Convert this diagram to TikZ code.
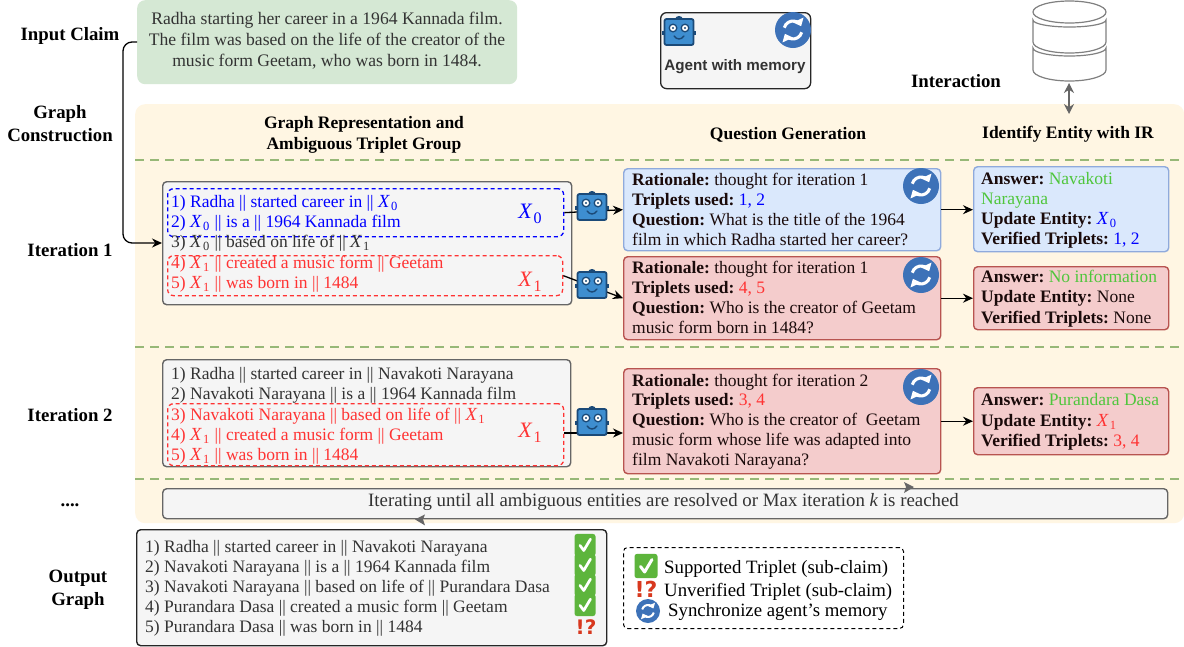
\documentclass[tikz,border=0pt]{standalone}
\usepackage{fontspec}
\setmainfont{Liberation Serif}
\newfontfamily\sansf{Liberation Sans}
\newfontfamily\dejab{DejaVu Sans}
\usetikzlibrary{arrows.meta,shapes.geometric}
\definecolor{bgyellow}{HTML}{FFF6E3}
\definecolor{claimgreen}{HTML}{D5E8D4}
\definecolor{sepgreen}{HTML}{97B877}
\definecolor{boxgray}{HTML}{F5F5F5}
\definecolor{edgegray}{HTML}{666666}
\definecolor{qblue}{HTML}{DAE8FC}
\definecolor{qblueedge}{HTML}{8FAADC}
\definecolor{qred}{HTML}{F4CCCC}
\definecolor{qrededge}{HTML}{B85450}
\definecolor{tred}{HTML}{FF3333}
\definecolor{tblue}{HTML}{0000FF}
\definecolor{tgreen}{HTML}{4FC63C}
\definecolor{tgray}{HTML}{333333}
\definecolor{tbrown}{HTML}{1A0A0A}
\definecolor{syncblue}{HTML}{3D72B8}
\definecolor{robotblue}{HTML}{3E8ED0}
\definecolor{robotedge}{HTML}{1B4A78}
\definecolor{checkgreen}{HTML}{5DB53C}
\definecolor{warnred}{HTML}{D8381E}
\newcommand{\Xs}[1]{{\fontsize{18.5}{20}\selectfont\textit{X}}\hspace{1pt}\raisebox{-0.22em}{\fontsize{12.5}{13}\selectfont #1}\hspace{1pt}}
\newcommand{\XL}[1]{{\fontsize{22}{24}\selectfont\textit{X}\hspace{1pt}\raisebox{-0.22em}{\fontsize{16}{16}\selectfont #1}}}
\newcommand{\SyncIcon}[4]{%
  \node[circle,fill=syncblue,minimum size=#4*2pt,inner sep=0pt] (#1) at (#2,#3) {};
  \begin{scope}[shift={(#1)}]
    \draw[white,line width=#4*0.17pt,-{Triangle[length=#4*0.38pt,width=#4*0.62pt]}] (195:#4*0.5) arc[start angle=195,end angle=335,radius=#4*0.5];
    \draw[white,line width=#4*0.17pt,-{Triangle[length=#4*0.38pt,width=#4*0.62pt]}] (15:#4*0.5) arc[start angle=15,end angle=155,radius=#4*0.5];
  \end{scope}}
\newcommand{\RobotIcon}[3]{%
  \node[minimum width=30pt,minimum height=32pt,inner sep=0pt] (#1) at (#2,#3) {};
  \begin{scope}[shift={(#1)}]
    \fill[robotedge] (-4,-11) arc[start angle=180,end angle=0,radius=4] -- cycle;
    \fill[robotedge] (-4,-11) .. controls (-3,-15) and (3,-15) .. (4,-11) -- cycle;
    \fill[robotedge] (-17,1) rectangle (17,5);
    \draw[robotedge,line width=1.8pt,fill=robotblue,rounded corners=2pt] (-14.5,-11) rectangle (14.5,15);
    \draw[robotedge,line width=1.3pt,fill=white] (-6,-2) circle (3.8);
    \draw[robotedge,line width=1.3pt,fill=white] (6,-2) circle (3.8);
    \fill[robotedge] (-6,-2) circle (1.2);
    \fill[robotedge] (6,-2) circle (1.2);
    \draw[robotedge,line width=1.4pt,line cap=round] (-5,6) .. controls (-2,10) and (2,10) .. (5,6);
  \end{scope}}
\newcommand{\CheckIcon}[4]{%
  \node[fill=checkgreen,rounded corners=2.5pt,minimum width=#4pt,minimum height=#4*1.05pt,inner sep=0pt] (#1) at (#2,#3) {};
  \draw[white,line width=#4*0.13pt,line cap=round,line join=round,shift={(#1)}] (-#4*0.24,#4*0.02) -- (-#4*0.06,#4*0.26) -- (#4*0.26,-#4*0.28);}
\tikzset{
  x=1pt,y=-1pt,
  tl/.style={anchor=base west,inner sep=0pt,font=\fontsize{17.5}{20}\selectfont\frenchspacing},
  tlb/.style={tl,text=tbrown},
  lab/.style={align=center,inner sep=0pt,font=\fontsize{18.8}{23}\selectfont\bfseries},
  hdr/.style={align=center,inner sep=0pt,font=\fontsize{17.5}{21}\selectfont\bfseries},
  frame/.style={anchor=north west,draw,rounded corners=4pt,inner sep=0pt},
  graybox/.style={frame,fill=boxgray,draw=edgegray,line width=1.4pt},
  qb/.style={frame,fill=qblue,draw=qblueedge,line width=1.4pt},
  qr/.style={frame,fill=qred,draw=qrededge,line width=1.4pt},
  dashb/.style={frame,draw=tblue,line width=1.3pt,dash pattern=on 4pt off 3pt,rounded corners=6pt},
  dashr/.style={frame,draw=tred,line width=1.3pt,dash pattern=on 4pt off 3pt,rounded corners=6pt},
  conn/.style={line width=1.3pt,-{Stealth[length=10pt,width=9pt]}},
  sep/.style={sepgreen,line width=2.4pt,dash pattern=on 9pt off 6pt},
  warn/.style={inner sep=0pt,text=warnred,font=\dejab\bfseries\fontsize{20}{20}\selectfont},
  legt/.style={anchor=base west,inner sep=0pt,text=black,font=\fontsize{18.8}{20}\selectfont},
}
\begin{document}
\begin{tikzpicture}
\useasboundingbox (0,0) rectangle (1184,646);
\fill[white] (0,0) rectangle (1184,646);
% background panel
\node[anchor=north west,fill=bgyellow,rounded corners=10pt,minimum width=1049pt,minimum height=419pt,inner sep=0pt] (panel) at (135,104) {};
\coordinate (sepL1) at (135,160); \coordinate (sepR1) at (1184,160);
\coordinate (sepL2) at (135,347); \coordinate (sepR2) at (1184,347);
\coordinate (sepL3) at (135,479); \coordinate (sepR3) at (1184,479);
\draw[sep] (sepL1) -- (sepR1);
\draw[sep] (sepL2) -- (sepR2);
\draw[sep] (sepL3) -- (sepR3);
% left labels
\node[lab] (lInput) at (70,36) {Input Claim};
\node[lab] (lGraph) at (60,124) {Graph\\Construction};
\node[lab] (lIt1) at (70,250) {Iteration 1};
\node[lab] (lIt2) at (70,415) {Iteration 2};
\node[lab] (lDots) at (70,505) {....};
\node[lab] (lOut) at (78,590) {Output\\Graph};
% claim
\node[anchor=north west,fill=claimgreen,rounded corners=8pt,minimum width=380pt,minimum height=84pt,inner sep=0pt] (claim) at (137,0) {};
\node[align=center,inner sep=0pt,font=\fontsize{17.6}{21}\selectfont,text=tgray] (claimT) at (327,41) {Radha starting her career in a 1964 Kannada film.\\The film was based on the life of the creator of the\\music form Geetam, who was born in 1484.};
% agent legend
\node[frame,fill=boxgray,draw=black!85,line width=1.3pt,minimum width=150pt,minimum height=76pt,rounded corners=6pt] (agent) at (660,12) {};
\RobotIcon{rAgent}{679}{30}
\SyncIcon{sAgent}{793}{30}{18}
\node[inner sep=0pt,text=tgray,font=\sansf\bfseries\fontsize{15.2}{16}\selectfont] (agentT) at (735,67) {Agent with memory};
% database
\node[lab] (lInter) at (956,81) {Interaction};
\begin{scope}[draw=black!50,fill=white,line width=1.2pt]
  \filldraw (1033,48) -- (1033,70) arc[start angle=180,end angle=0,x radius=36.5,y radius=11] -- (1106,48) arc[start angle=0,end angle=180,x radius=36.5,y radius=8] -- cycle;
  \filldraw (1033,20) -- (1033,42) arc[start angle=180,end angle=0,x radius=36.5,y radius=11] -- (1106,20) arc[start angle=0,end angle=180,x radius=36.5,y radius=7] -- cycle;
  \node[ellipse,draw=black!50,fill=white,line width=1.2pt,minimum width=73pt,minimum height=22pt,inner sep=0pt] (dbTop) at (1069.5,12) {};
\end{scope}
\coordinate (dbB) at (1069,83); \coordinate (dbT) at (1069,114);
\draw[edgegray,line width=1.3pt,{Stealth[length=10pt,width=10pt]}-{Stealth[length=10pt,width=10pt]}] (dbB) -- (dbT);
% headers
\node[hdr] (hGraph) at (364,134.5) {Graph Representation and\\Ambiguous Triplet Group};
\node[hdr] (hQ) at (788,134.5) {Question Generation};
\node[hdr] (hI) at (1068,134.5) {Identify Entity with IR};
% iteration 1 graph
\node[graybox,minimum width=409pt,minimum height=123pt] (g1) at (162,181) {};
\node[dashb,minimum width=396pt,minimum height=48pt] (g1b) at (167,188) {};
\node[dashr,minimum width=395pt,minimum height=40pt] (g1r) at (167,255) {};
\node[tl,text=tblue] (t11) at (171,207) {1) Radha || started career in || \Xs{0}};
\node[tl,text=tblue] (t12) at (171,227) {2) \Xs{0} || is a || 1964 Kannada film};
\node[tl,text=tgray] (t13) at (171,247) {3) \Xs{0} || based on life of || \Xs{1}};
\node[tl,text=tred] (t14) at (171,268) {4) \Xs{1} || created a music form || Geetam};
\node[tl,text=tred] (t15) at (171,288) {5) \Xs{1} || was born in || 1484};
\node[inner sep=0pt,text=tblue] (x0) at (530,214) {\XL{0}};
\node[inner sep=0pt,text=tred] (x1) at (530,282) {\XL{1}};
% question boxes
\node[qb,minimum width=317pt,minimum height=82pt] (q1) at (623,168) {};
\node[qr,minimum width=317pt,minimum height=83pt] (q2) at (623,256) {};
\node[qr,minimum width=317pt,minimum height=105pt] (q3) at (623,368) {};
\node[tlb] (q11) at (632,185) {\textbf{Rationale:} thought for iteration 1};
\node[tlb] (q12) at (632,205) {\textbf{Triplets used:} \textcolor{tblue}{1, 2}};
\node[tlb] (q13) at (632,225) {\textbf{Question:} What is the title of the 1964};
\node[tlb] (q14) at (632,245) {film in which Radha started her career?};
\node[tlb] (q21) at (632,273) {\textbf{Rationale:} thought for iteration 1};
\node[tlb] (q22) at (632,293) {\textbf{Triplets used:} \textcolor{tred}{4, 5}};
\node[tlb] (q23) at (632,313) {\textbf{Question:} Who is the creator of Geetam};
\node[tlb] (q24) at (632,333) {music form born in 1484?};
\node[tlb] (q31) at (632,386) {\textbf{Rationale:} thought for iteration 2};
\node[tlb] (q32) at (632,405) {\textbf{Triplets used:} \textcolor{tred}{3, 4}};
\node[tlb] (q33) at (632,425) {\textbf{Question:} Who is the creator of\ \ Geetam};
\node[tlb] (q34) at (632,445) {music form whose life was adapted into};
\node[tlb] (q35) at (632,465) {film Navakoti Narayana?};
% answer boxes
\node[qb,minimum width=195pt,minimum height=85pt] (a1) at (973,166) {};
\node[qr,minimum width=195pt,minimum height=63pt] (a2) at (973,266) {};
\node[qr,minimum width=195pt,minimum height=67pt] (a3) at (973,387) {};
\node[tlb] (a11) at (981,184) {\textbf{Answer:} \textcolor{tgreen}{Navakoti}};
\node[tlb] (a12) at (981,204) {\textcolor{tgreen}{Narayana}};
\node[tlb] (a13) at (981,224) {\textbf{Update Entity:} \textcolor{tblue}{\Xs{0}}};
\node[tlb] (a14) at (981,244) {\textbf{Verified Triplets:} \textcolor{tblue}{1, 2}};
\node[tlb] (a21) at (981,282) {\textbf{Answer:} \textcolor{tgreen}{No information}};
\node[tlb] (a22) at (981,302) {\textbf{Update Entity:} None};
\node[tlb] (a23) at (981,323) {\textbf{Verified Triplets:} None};
\node[tlb] (a31) at (981,405) {\textbf{Answer:} \textcolor{tgreen}{Purandara Dasa}};
\node[tlb] (a32) at (981,426) {\textbf{Update Entity:} \textcolor{tred}{\Xs{1}}};
\node[tlb] (a33) at (981,446) {\textbf{Verified Triplets:} \textcolor{tred}{3, 4}};
% iteration 2 graph
\node[graybox,minimum width=408pt,minimum height=107pt] (g2) at (162,359) {};
\node[dashr,minimum width=396pt,minimum height=62pt] (g2r) at (167,403) {};
\node[tl,text=tgray] (t21) at (171,379) {1) Radha || started career in || Navakoti Narayana};
\node[tl,text=tgray] (t22) at (171,399) {2) Navakoti Narayana || is a || 1964 Kannada film};
\node[tl,text=tred] (t23) at (171,420) {3) Navakoti Narayana || based on life of || \Xs{1}};
\node[tl,text=tred] (t24) at (171,440) {4) \Xs{1} || created a music form || Geetam};
\node[tl,text=tred] (t25) at (171,460) {5) \Xs{1} || was born in || 1484};
\node[inner sep=0pt,text=tred] (x2) at (530,433) {\XL{1}};
% connectors
\coordinate (c3) at (623,433);
\draw[line width=1.3pt,rounded corners=9pt,-{Stealth[length=10pt,width=9pt]}] (claim.west |- 0,42) -- (123,42) -- (123,243) -- (g1.west |- 0,243);
\draw[conn] (g1b.east) -- (q1.west);
\draw[conn] (g1r.east) -- (q2.west);
\draw[conn] (g2r.east |- c3) -- (c3);
\draw[conn] (q1.east) -- (q1.east -| a1.west);
\draw[conn] (q2.east) -- (a2.west);
\draw[conn] (q3.east |- a3.west) -- (a3.west);
\RobotIcon{r1}{592}{205}
\RobotIcon{r2}{592}{283}
\RobotIcon{r3}{592}{420}
\SyncIcon{s1}{921}{186}{18}
\SyncIcon{s2}{921}{275}{18}
\SyncIcon{s3}{921}{387}{18}
% iterating bar
\node[graybox,minimum width=1005pt,minimum height=30pt] (bar) at (162,488) {};
\node[inner sep=0pt,text=tgray,font=\fontsize{18.85}{20}\selectfont] (barT) at (663.5,502) {Iterating until all ambiguous entities are resolved or Max iteration \textit{k} is reached};
\fill[edgegray,shift={(bar.north west)}] (742,-6) -- (752,-1) -- (742,5) -- (744,-1) -- cycle;
\fill[edgegray,shift={(bar.south west)}] (253,0) -- (263,-5) -- (261,0) -- (263,6) -- cycle;
% output graph
\node[frame,fill=boxgray,draw=black!85,line width=1.4pt,minimum width=470pt,minimum height=116pt] (out) at (136,529) {};
\node[tl,text=tgray] (o1) at (145,552) {1) Radha || started career in || Navakoti Narayana};
\node[tl,text=tgray] (o2) at (145,572) {2) Navakoti Narayana || is a || 1964 Kannada film};
\node[tl,text=tgray] (o3) at (145,592) {3) Navakoti Narayana || based on life of || Purandara Dasa};
\node[tl,text=tgray] (o4) at (145,612) {4) Purandara Dasa || created a music form || Geetam};
\node[tl,text=tgray] (o5) at (145,632) {5) Purandara Dasa || was born in || 1484};
\CheckIcon{k1}{585}{545}{21}
\CheckIcon{k2}{585}{565}{21}
\CheckIcon{k3}{585}{585}{21}
\CheckIcon{k4}{585}{605}{21}
\node[warn] (w1) at (586,627) {!?};
% legend
\node[frame,draw=black,line width=1pt,dash pattern=on 4pt off 3pt,minimum width=280pt,minimum height=81pt] (leg) at (623,547) {};
\CheckIcon{k5}{646}{566}{23}
\node[warn,font=\dejab\bfseries\fontsize{22}{22}\selectfont] (w2) at (646,589) {!?};
\SyncIcon{s4}{648}{611}{12}
\node[legt] (l1) at (664,573) {Supported Triplet (sub-claim)};
\node[legt] (l2) at (664,596) {Unverified Triplet (sub-claim)};
\node[legt] (l3) at (668,616) {Synchronize agent's memory};
\end{tikzpicture}
\end{document}
